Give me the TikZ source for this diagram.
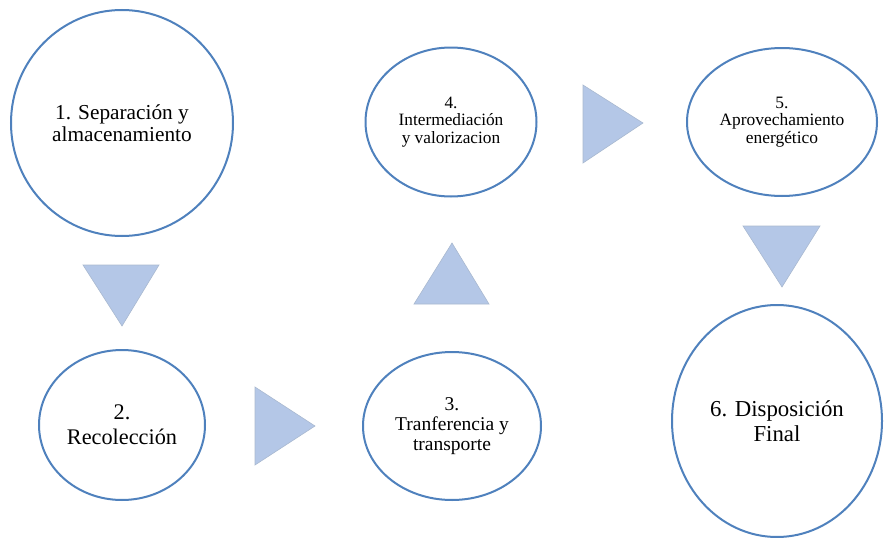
\documentclass[tikz,border=0pt]{standalone}
\usepackage{fontspec}
\setmainfont{Liberation Serif}
\usetikzlibrary{shapes.geometric}
\definecolor{ring}{HTML}{4F81BD}
\definecolor{arrowfill}{HTML}{B4C7E7}
\definecolor{arrowedge}{HTML}{A9B9D0}
\begin{document}
\begin{tikzpicture}[x=1pt,y=-1pt,
  stage/.style={ellipse, draw=ring, line width=2pt, fill=white, inner sep=0pt, align=center},
  arrowtri/.style={fill=arrowfill, draw=arrowedge, line width=0.6pt, line join=miter}]
\useasboundingbox (0,0) rectangle (884,538);
\node[stage, minimum width=222pt, minimum height=226pt, font=\fontsize{21.3}{22}\selectfont] (c1) at (122,123) {1. Separación y\\almacenamiento};
\node[stage, minimum width=166pt, minimum height=150pt, font=\fontsize{22.3}{25}\selectfont] (c2) at (122,425) {2.\\Recolección};
\node[stage, minimum width=178pt, minimum height=148pt, font=\fontsize{19.5}{20}\selectfont] (c3) at (452,426) {3.\\Tranferencia y\\transporte};
\node[stage, minimum width=171pt, minimum height=149pt, font=\fontsize{17.3}{17.5}\selectfont] (c4) at (451,122) {4.\\Intermediación\\y valorizacion};
\node[stage, minimum width=190pt, minimum height=148pt, font=\fontsize{17.4}{17.5}\selectfont] (c5) at (782,122) {5.\\Aprovechamiento\\energético};
\node[stage, minimum width=210pt, minimum height=232pt, font=\fontsize{22.8}{25}\selectfont] (c6) at (777,421) {6. Disposición\\Final};
% arrows between stages
\draw[arrowtri] (83,265) -- (159,265) -- (122,326) -- cycle;
\draw[arrowtri] (255,387) -- (255,465) -- (315,426) -- cycle;
\draw[arrowtri] (414,304) -- (489,304) -- (452,243) -- cycle;
\draw[arrowtri] (583,85) -- (583,163) -- (643,123) -- cycle;
\draw[arrowtri] (743,226) -- (820,226) -- (782,287) -- cycle;
\end{tikzpicture}
\end{document}
